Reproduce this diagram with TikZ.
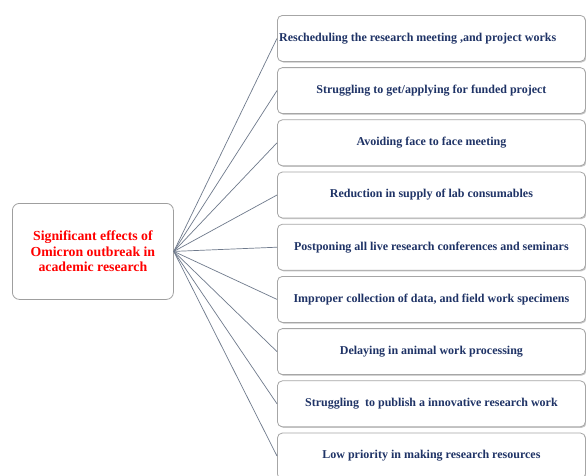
\documentclass[tikz,border=0pt]{standalone}
\usepackage{fontspec}
\setmainfont{Liberation Serif}
\begin{document}
\begin{tikzpicture}[x=1pt,y=-1pt,
  itembox/.style={draw=gray!70, line width=0.8pt, rounded corners=5pt, fill=white,
    minimum width=308pt, minimum height=46pt, inner sep=0pt, anchor=north west,
    text=navy, font=\bfseries\fontsize{12}{14}\selectfont},
  hubbox/.style={draw=gray!75, line width=0.8pt, rounded corners=7pt, fill=white,
    minimum width=161pt, minimum height=96pt, inner sep=0pt, anchor=north west,
    text=red, align=center, font=\bfseries\fontsize{13.8}{15.5}\selectfont},
  shade/.style={fill=gray!45, rounded corners=5pt},
  spoke/.style={draw=linegray, line width=0.7pt}]
\definecolor{navy}{HTML}{1F3366}
\definecolor{linegray}{HTML}{6F7A8C}
\useasboundingbox (0,0) rectangle (586,475);
\fill[white] (0,0) rectangle (586,475);

% central topic
\node[hubbox] (hub) at (12,203) {Significant effects of\\Omicron outbreak in\\academic research};

% shadows under the effect boxes
\foreach \i in {0,...,8}{
  \fill[shade] (278.5,{15+52.2*\i+1.5}) rectangle ++(308,46);
}

% effect boxes
\node[itembox] (e1) at (277,15) {};
\node[anchor=west, text=navy, font=\bfseries\fontsize{12}{14}\selectfont, inner sep=0pt]
  (t1) at ([xshift=2pt]e1.west) {Rescheduling the research meeting ,and project works};
\node[itembox] (e2) at (277,67.2) {Struggling to get/applying for funded project};
\node[itembox] (e3) at (277,119.4) {Avoiding face to face meeting};
\node[itembox] (e4) at (277,171.6) {Reduction in supply of lab consumables};
\node[itembox] (e5) at (277,223.8) {Postponing all live research conferences and seminars};
\node[itembox] (e6) at (277,276) {Improper collection of data, and field work specimens};
\node[itembox] (e7) at (277,328.2) {Delaying in animal work processing};
\node[itembox] (e8) at (277,380.4) {Struggling\ \ to publish a innovative research work};
\node[itembox] (e9) at (277,432.6) {Low priority in making research resources};

% spokes from the central topic to each effect
\foreach \n in {e1,e2,e3,e4,e5,e6,e7,e8,e9}{
  \draw[spoke] (hub.east) -- (\n.west);
}
\end{tikzpicture}
\end{document}
